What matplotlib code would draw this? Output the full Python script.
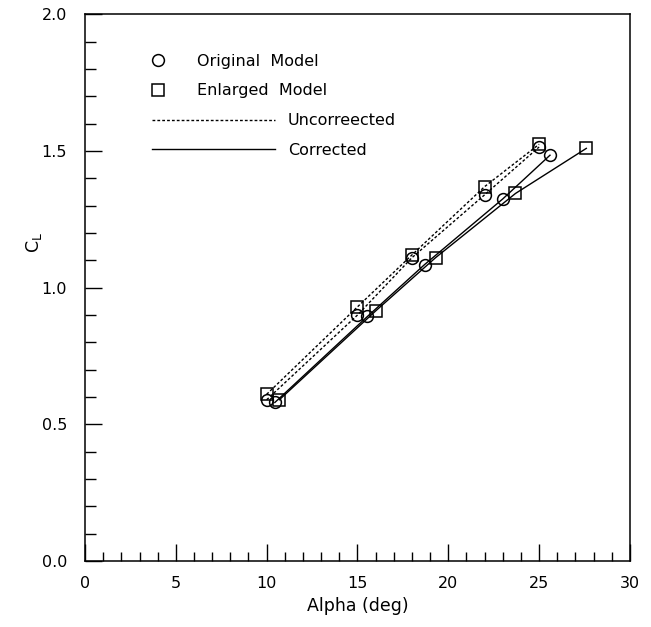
import matplotlib.pyplot as plt
from matplotlib.lines import Line2D
from matplotlib.ticker import MultipleLocator

# --- data ---
alpha_unc = [10.0, 15.0, 18.0, 22.0, 25.0]
cl_unc_orig = [0.59, 0.90, 1.11, 1.34, 1.515]
cl_unc_enl = [0.61, 0.93, 1.12, 1.37, 1.525]

alpha_cor_orig = [10.45, 15.55, 18.7, 23.0, 25.6]
cl_cor_orig = [0.58, 0.895, 1.085, 1.325, 1.485]

alpha_cor_enl = [10.7, 16.0, 19.3, 23.7, 27.6]
cl_cor_enl = [0.59, 0.915, 1.11, 1.345, 1.51]

x_ticks = [0, 5, 10, 15, 20, 25, 30]
y_ticks = [0.0, 0.5, 1.0, 1.5, 2.0]

fs = 11.5
dotted = (0, (2.0, 1.5))
plt.rcParams['font.family'] = ['DejaVu Sans']

fig = plt.figure(figsize=(6.51, 6.27), dpi=100)
ax = fig.add_axes([0.1306, 0.1053, 0.837, 0.8716])

mk = dict(markersize=8.5, markerfacecolor='none', markeredgecolor='black',
          markeredgewidth=1.1, color='black', linewidth=1.0)

# uncorrected (dotted)
ax.plot(alpha_unc, cl_unc_orig, linestyle=dotted, marker='o', **mk)
ax.plot(alpha_unc, cl_unc_enl, linestyle=dotted, marker='s', **mk)
# corrected (solid)
ax.plot(alpha_cor_orig, cl_cor_orig, linestyle='-', marker='o', **mk)
ax.plot(alpha_cor_enl, cl_cor_enl, linestyle='-', marker='s', **mk)

ax.set_xlim(0, 30)
ax.set_ylim(0, 2.0)
ax.set_xticks(x_ticks)
ax.set_yticks(y_ticks)
ax.set_yticklabels([f'{v:.1f}' for v in y_ticks])
ax.xaxis.set_minor_locator(MultipleLocator(1))
ax.yaxis.set_minor_locator(MultipleLocator(0.1))
ax.tick_params(axis='both', which='both', direction='in', top=False, right=False,
               labelsize=fs, width=1.0)
ax.tick_params(axis='x', which='major', length=12, pad=11)
ax.tick_params(axis='x', which='minor', length=6.5)
ax.tick_params(axis='y', which='major', length=12, pad=13)
ax.tick_params(axis='y', which='minor', length=8)
for s in ax.spines.values():
    s.set_linewidth(1.1)

ax.set_xlabel('Alpha (deg)', fontsize=12.5, labelpad=4)
ax.set_ylabel(r'$\mathregular{C_L}$', fontsize=fs + 1)
ax.yaxis.set_label_coords(-0.075, 0.582)

# legend: symbols
sym_handles = [
    Line2D([], [], linestyle='none', marker='o', markersize=8.5,
           markerfacecolor='none', markeredgecolor='black', markeredgewidth=1.1),
    Line2D([], [], linestyle='none', marker='s', markersize=8.5,
           markerfacecolor='none', markeredgecolor='black', markeredgewidth=1.1),
]
leg1 = ax.legend(sym_handles, ['Original  Model', 'Enlarged  Model'],
                 loc='upper left', bbox_to_anchor=(0.123, 0.928),
                 frameon=False, fontsize=fs, handlelength=0.8,
                 handletextpad=2.0, labelspacing=0.9, borderpad=0,
                 borderaxespad=0)
ax.add_artist(leg1)

# legend: line styles
line_handles = [
    Line2D([], [], color='black', linewidth=1.0, linestyle=dotted),
    Line2D([], [], color='black', linewidth=1.0, linestyle='-'),
]
ax.legend(line_handles, ['Uncorreected', 'Corrected'],
          loc='upper left', bbox_to_anchor=(0.123, 0.819),
          frameon=False, fontsize=fs, handlelength=7.7,
          handletextpad=0.8, labelspacing=0.9, borderpad=0,
          borderaxespad=0)

fig.savefig('out.png', dpi=100)
